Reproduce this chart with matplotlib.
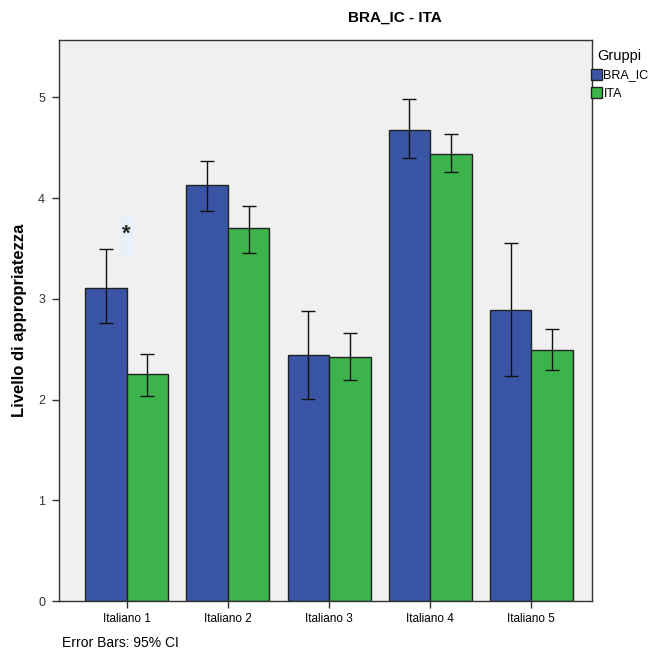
import numpy as np
import matplotlib
matplotlib.use('Agg')
import matplotlib.pyplot as plt
from matplotlib.patches import Patch, Rectangle

plt.rcParams['font.family'] = ['Liberation Sans', 'DejaVu Sans']

# dati
categorie = ['Italiano 1', 'Italiano 2', 'Italiano 3', 'Italiano 4', 'Italiano 5']
gruppi = ['BRA_IC', 'ITA']
bra_media = [3.11, 4.13, 2.44, 4.68, 2.89]
bra_ci_alto = [3.49, 4.37, 2.88, 4.98, 3.55]
bra_ci_basso = [2.76, 3.87, 2.01, 4.40, 2.23]
ita_media = [2.25, 3.70, 2.42, 4.44, 2.49]
ita_ci_alto = [2.45, 3.92, 2.66, 4.64, 2.70]
ita_ci_basso = [2.04, 3.46, 2.19, 4.26, 2.29]

col_bra = '#3a55a6'
col_ita = '#3cb44b'

fig = plt.figure(figsize=(6.61, 6.54), dpi=100)
ax = fig.add_axes([59/661, 1-601/654, (592-59)/661, (601-40)/654])
ax.set_facecolor('#f0f0f0')

x = np.arange(len(categorie))
w = 0.41
for off, media, alto, basso, col in [(-w/2, bra_media, bra_ci_alto, bra_ci_basso, col_bra),
                                      (w/2, ita_media, ita_ci_alto, ita_ci_basso, col_ita)]:
    media = np.array(media)
    yerr = [media - np.array(basso), np.array(alto) - media]
    ax.bar(x + off, media, width=w, color=col, edgecolor='#222222', linewidth=1.0, zorder=2)
    ax.errorbar(x + off, media, yerr=yerr, fmt='none', ecolor='#111111',
                elinewidth=1.0, capsize=5, capthick=1.0, zorder=3)

# asterisco di significatività con riquadro chiaro
ax.add_patch(Rectangle((-0.08, 3.43), 0.15, 0.40, facecolor='#e8f0fa', edgecolor='none', zorder=1))
ax.text(0, 3.64, '*', ha='center', va='center', fontsize=16, fontweight='bold',
        color='#222222', zorder=4)

ax.set_xlim(-0.67, 4.6)
ax.set_ylim(0, 5.57)
ax.set_xticks(x)
ax.set_xticklabels(categorie, fontsize=8.5)
ax.set_yticks(range(6))
ax.set_yticklabels([str(i) for i in range(6)], fontsize=9, color='#333333')
ax.tick_params(axis='both', direction='out', length=5, width=1.0, color='#333333')
ax.tick_params(axis='y', pad=5)
for s in ax.spines.values():
    s.set_color('#333333')
    s.set_linewidth(1.0)
ax.set_ylabel('Livello di appropriatezza', fontsize=12, fontweight='bold', labelpad=8)

fig.text(395/661, 1-18/654, 'BRA_IC - ITA', ha='center', va='center',
         fontsize=11, fontweight='bold')
fig.text(62/661, 1-643/654, 'Error Bars: 95% CI', ha='left', va='center', fontsize=10)

handles = [Patch(facecolor=col_bra, edgecolor='#222222'), Patch(facecolor=col_ita, edgecolor='#222222')]
fig.legend(handles, gruppi, title='Gruppi', loc='upper left', bbox_to_anchor=(591/661, 1-49/654),
           frameon=False, fontsize=9, title_fontsize=10.5, handlelength=0.85, handleheight=1.0,
           handletextpad=0.15, labelspacing=0.45, borderaxespad=0, borderpad=0.0)

fig.savefig('out.png', dpi=100)
